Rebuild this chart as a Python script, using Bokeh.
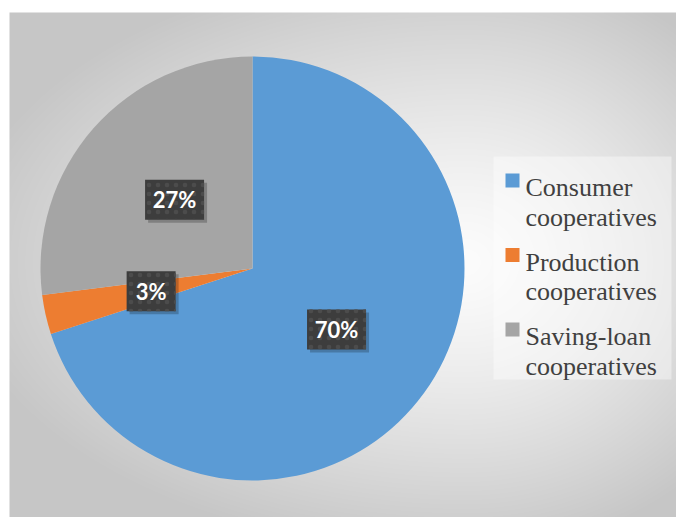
import numpy as np
from bokeh.plotting import figure
from bokeh.models import Range1d, ColumnDataSource
from bokeh.core.properties import value
from bokeh.embed import file_html
from bokeh.resources import INLINE

# ---- data ----
categories = ["Consumer cooperatives", "Production cooperatives", "Saving-loan cooperatives"]
legend_line1 = ["Consumer", "Production", "Saving-loan"]
legend_line2 = ["cooperatives", "cooperatives", "cooperatives"]
shares = [70, 3, 27]
colors = ["#5B9BD5", "#ED7D31", "#A5A5A5"]

W, H = 676, 517
p = figure(width=W, height=H, output_backend="svg", toolbar_location=None,
           x_range=Range1d(0, W), y_range=Range1d(0, H),
           x_axis_type=None, y_axis_type=None, min_border=0,
           outline_line_color=None, background_fill_color="white",
           border_fill_color="white")
p.grid.visible = False

# ---- background gradient (chart area) ----
bx0, by0, bw, bh = 9, 0, W - 9, H - 12
xs = np.arange(bw) + bx0 + 0.5
ys = np.arange(bh) + by0 + 0.5
X, Y = np.meshgrid(xs, ys)
cx_g, cy_g = 465, H - 262
ax = np.where(X < cx_g, cx_g - bx0, 300)
ay = np.where(Y < cy_g, 260, 270)
d = np.sqrt(((X - cx_g) / ax) ** 2 + ((Y - cy_g) / ay) ** 2)
v = 252 - 46 * np.clip(d, 0, 1.12) ** 1.3
v = np.clip(v, 0, 255).astype(np.uint32)
img = (255 << 24) | (v << 16) | (v << 8) | v
img = img.astype(np.uint32)
p.image_rgba(image=[img], x=bx0, y=by0, dw=bw, dh=bh)

# ---- pie ----
cx, cy, r = 252, H - 268, 212
fr = np.array(shares, dtype=float) / sum(shares)
cum = np.concatenate([[0], np.cumsum(fr)])
start = np.pi / 2 - 2 * np.pi * cum[:-1]
end = np.pi / 2 - 2 * np.pi * cum[1:]
src = ColumnDataSource(dict(start=start, end=end, color=colors))
p.wedge(x=cx, y=cy, radius=r, start_angle="start", end_angle="end",
        direction="clock", fill_color="color", line_color=None, source=src)

# ---- data labels ----
mid = (start + end) / 2
lr = 0.49 * r
lx = cx + lr * np.cos(mid)
ly = cy + lr * np.sin(mid)
labels = [f"{s}%" for s in shares]
bw_lab = [10 * len(t) + 29 for t in labels]
lab_src = ColumnDataSource(dict(x=lx, y=ly, sx=lx + 3, sy=ly - 3, w=bw_lab, t=labels))
p.rect(x="sx", y="sy", width="w", height=40, fill_color="black", fill_alpha=0.22,
       line_color=None, source=lab_src)
p.rect(x="x", y="y", width="w", height=40, fill_color="#3d3d3d", line_color=None,
       hatch_pattern="dot", hatch_color="#4c4c4c", hatch_scale=9, hatch_weight=1.0,
       source=lab_src)
p.text(x="x", y="y", text="t", text_color="white", text_font=value("Lato"),
       text_font_style="bold", text_font_size="22px", text_align="center",
       text_baseline="middle", source=lab_src)

# ---- legend ----
p.rect(x=582, y=H - 267.5, width=178, height=223, fill_color="white", fill_alpha=0.4,
       line_color=None)
n = len(categories)
step = 74.5
sq_y = [H - (180 + i * step) for i in range(n)]
t1_y = [H - (187 + i * step) for i in range(n)]
t2_y = [H - (216.5 + i * step) for i in range(n)]
leg = ColumnDataSource(dict(sy=sq_y, y1=t1_y, y2=t2_y, c=colors,
                            l1=legend_line1, l2=legend_line2))
p.rect(x=512, y="sy", width=14, height=14, fill_color="c", line_color=None, source=leg)
for col in ("l1", "l2"):
    p.text(x=525, y="y1" if col == "l1" else "y2", text=col, text_color="#404040",
           text_font=value("Liberation Serif"), text_font_size="26px",
           text_align="left", text_baseline="alphabetic", source=leg)

open("out.html", "w").write(file_html(p, INLINE))
